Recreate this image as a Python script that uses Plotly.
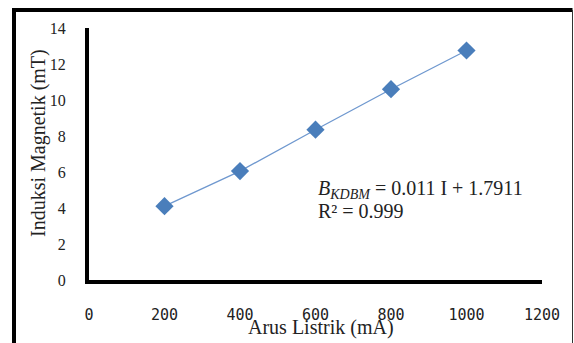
import plotly.graph_objects as go

arus = [200, 400, 600, 800, 1000]
induksi = [4.1, 6.05, 8.35, 10.6, 12.75]
x_ticks = [0, 200, 400, 600, 800, 1000, 1200]
y_ticks = [0, 2, 4, 6, 8, 10, 12, 14]

W, H = 574, 343
L, R, T, B = 89, 32, 28, 63
pw, ph = W - L - R, H - T - B

def px(xp):
    return (xp - L) / pw

def py(yp):
    return (H - B - yp) / ph

fig = go.Figure()
fig.add_trace(go.Scatter(
    x=arus, y=induksi, mode="lines+markers",
    line=dict(color="#6f98cf", width=1.3),
    marker=dict(symbol="diamond", size=14, color="#4a7ebb"),
    showlegend=False, hoverinfo="skip"))

fig.update_layout(
    width=W, height=H,
    margin=dict(l=L, r=R, t=T, b=B),
    paper_bgcolor="white", plot_bgcolor="white",
    xaxis=dict(range=[0, 1200], tickvals=x_ticks, showgrid=False, zeroline=False,
               showline=True, linecolor="black", linewidth=4,
               ticks="", ticklabelstandoff=18,
               tickfont=dict(family="DejaVu Sans Mono", size=15, color="#222")),
    yaxis=dict(range=[0, 14], tickvals=y_ticks, showgrid=False, zeroline=False,
               showline=True, linecolor="black", linewidth=4,
               ticks="", ticklabelstandoff=16,
               tickfont=dict(family="Liberation Serif", size=16, color="#222")),
    font=dict(family="Liberation Serif", color="#222"),
)

# outer frame
fig.add_shape(type="line", xref="paper", yref="paper",
              x0=px(14), x1=px(14), y0=py(10), y1=py(345),
              line=dict(color="black", width=4))
fig.add_shape(type="line", xref="paper", yref="paper",
              x0=px(12), x1=px(572.5), y0=py(10), y1=py(10),
              line=dict(color="black", width=4))
fig.add_shape(type="line", xref="paper", yref="paper",
              x0=px(572.5), x1=px(572.5), y0=py(10), y1=py(345),
              line=dict(color="#333", width=1))

fig.add_annotation(xref="paper", yref="paper", x=px(321), y=py(327),
                   xanchor="center", yanchor="middle",
                   text="Arus Listrik (mA)", showarrow=False,
                   font=dict(family="Liberation Serif", size=20, color="#222"))
fig.add_annotation(xref="paper", yref="paper", x=px(38), y=py(143),
                   xanchor="center", yanchor="middle",
                   text="Induksi Magnetik (mT)", showarrow=False, textangle=-90,
                   font=dict(family="Liberation Serif", size=20, color="#222"))
fig.add_annotation(xref="paper", yref="paper", x=px(316), y=py(190),
                   xanchor="left", yanchor="middle", align="left",
                   text="<i>B</i><sub><i>KDBM</i></sub> = 0.011 I + 1.7911",
                   showarrow=False,
                   font=dict(family="Liberation Serif", size=20, color="#222"))
fig.add_annotation(xref="paper", yref="paper", x=px(316), y=py(211),
                   xanchor="left", yanchor="middle", align="left",
                   text="R² = 0.999",
                   showarrow=False,
                   font=dict(family="Liberation Serif", size=20, color="#222"))

fig.write_html("out.html", config={"displayModeBar": False},
               post_script="document.body.style.margin='0';")
